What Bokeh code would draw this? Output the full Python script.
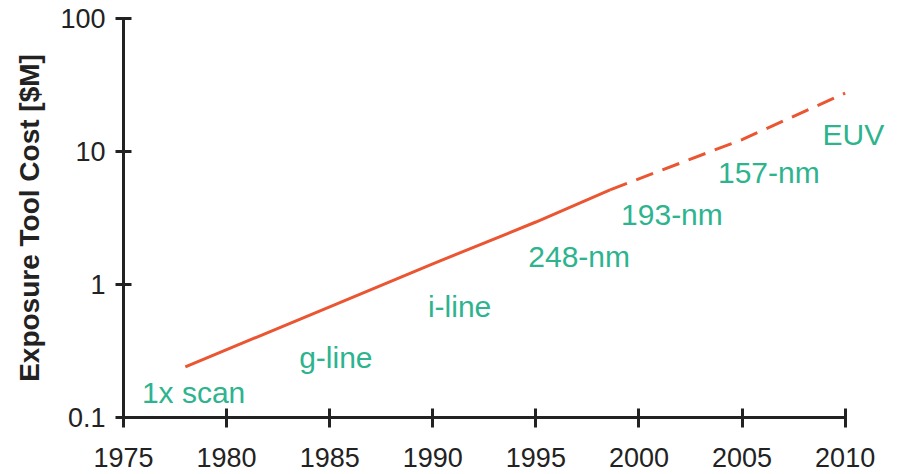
from bokeh.plotting import figure
from bokeh.models import FixedTicker, ColumnDataSource, LabelSet
from bokeh.core.properties import value
from bokeh.embed import file_html
from bokeh.resources import INLINE

# Data
solid_years = [1978, 1985, 1990, 1995, 1998.6]
solid_cost = [0.24, 0.68, 1.43, 2.95, 5.15]
dashed_years = [1998.6, 2005, 2010]
dashed_cost = [5.15, 12.3, 27.5]

label_text = ["1x scan", "g-line", "i-line", "248-nm", "193-nm", "157-nm", "EUV"]
label_year = [1978.4, 1985.3, 1991.3, 1997.1, 2001.6, 2006.3, 2010.4]
label_cost = [0.154, 0.283, 0.68, 1.62, 3.36, 6.95, 13.5]

x_ticks = [1975, 1980, 1985, 1990, 1995, 2000, 2005, 2010]
y_ticks = [0.1, 1, 10, 100]
y_tick_labels = ["0.1", "1", "10", "100"]

LINE = "#ea5532"
GREEN = "#2db48f"
AX = "#222222"
FONT = "Liberation Sans"

p = figure(width=900, height=472, output_backend="svg", toolbar_location=None,
           x_range=(1975, 2012.2), y_range=(0.1, 100), y_axis_type="log",
           min_border_left=123, min_border_right=10, min_border_top=18,
           min_border_bottom=55)
p.outline_line_color = None
p.xgrid.visible = False
p.ygrid.visible = False
p.background_fill_color = "white"
p.border_fill_color = "white"

p.line(solid_years, solid_cost, line_color=LINE, line_width=3)
p.line(dashed_years, dashed_cost, line_color=LINE, line_width=3, line_dash="18 10")

src = ColumnDataSource(dict(x=label_year, y=label_cost, t=label_text))
labels = LabelSet(x="x", y="y", text="t", source=src, text_align="center",
                  text_baseline="middle", text_color=GREEN, text_font=value(FONT),
                  text_font_size="30px")
p.add_layout(labels)

for ax in (p.xaxis, p.yaxis):
    ax.axis_line_color = AX
    ax.axis_line_width = 3
    ax.major_tick_line_color = AX
    ax.major_tick_line_width = 3
    ax.minor_tick_line_color = None
    ax.major_label_text_font = FONT
    ax.major_label_text_font_size = "27px"
    ax.major_label_text_color = AX

p.xaxis.ticker = FixedTicker(ticks=x_ticks)
p.xaxis.bounds = (1975, 2010)
p.xaxis.major_tick_in = 9
p.xaxis.major_tick_out = 10
p.xaxis.major_label_standoff = 20

p.yaxis.ticker = FixedTicker(ticks=y_ticks)
p.yaxis.major_label_overrides = {t: l for t, l in zip(y_ticks, y_tick_labels)}
p.yaxis.major_tick_in = 8
p.yaxis.major_tick_out = 8
p.yaxis.major_label_standoff = 10
p.yaxis.axis_label = "Exposure Tool Cost [$M]"
p.yaxis.axis_label_text_font = FONT
p.yaxis.axis_label_text_font_style = "bold"
p.yaxis.axis_label_text_font_size = "28px"
p.yaxis.axis_label_text_color = AX
p.yaxis.axis_label_standoff = 12

open("out.html", "w").write(file_html(p, INLINE))
